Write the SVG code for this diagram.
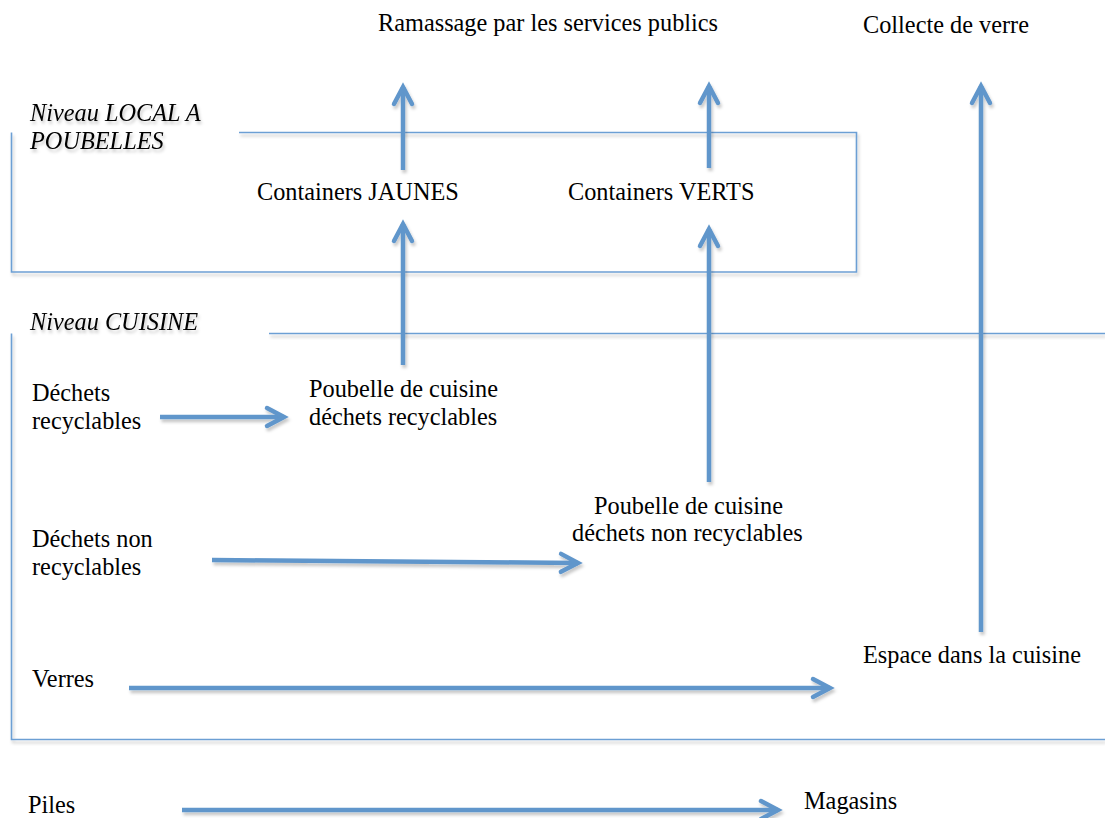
<svg xmlns="http://www.w3.org/2000/svg" width="1105" height="818" viewBox="0 0 1105 818">
  <defs>
    <filter id="sh" x="-5%" y="-20%" width="110%" height="140%">
      <feDropShadow dx="1.5" dy="3" stdDeviation="1.8" flood-color="#000" flood-opacity="0.22"/>
    </filter>
    <marker id="head" markerUnits="userSpaceOnUse" viewBox="-22 -13 26 26" refX="0" refY="0" markerWidth="26" markerHeight="26" orient="auto" overflow="visible">
      <path d="M-17,-9 L0,0 L-17,9" fill="none" stroke="#6096cb" stroke-width="4.5" stroke-linecap="round" stroke-linejoin="miter"/>
    </marker>
  </defs>
  <style>
    text { font-family: "Liberation Serif", "Times New Roman", serif; font-size: 24.3px; fill: #000; }
    .it { font-style: italic; }
    .frame { fill: none; stroke: #6c9fd4; stroke-width: 1.6; }
    .arr { fill: none; stroke: #6096cb; stroke-width: 4.5; marker-end: url(#head); }
  </style>
  <rect width="1105" height="818" fill="#ffffff"/>

  <g id="level-local" filter="url(#sh)">
    <path class="frame" d="M239,132.5 H856.5 V272 H11.5 V132.5"/>
    <text class="it" x="30" y="121">Niveau LOCAL A</text>
    <text class="it" x="30" y="149">POUBELLES</text>
  </g>

  <g id="level-cuisine" filter="url(#sh)">
    <path class="frame" d="M269,333.5 H1105 M11.5,333.5 V739.5 H1105"/>
    <text class="it" x="30" y="330">Niveau CUISINE</text>
  </g>

  <g id="node-ramassage"><text x="378" y="31">Ramassage par les services publics</text></g>
  <g id="node-collecte"><text x="863" y="33">Collecte de verre</text></g>
  <g id="node-jaunes"><text x="257" y="200">Containers JAUNES</text></g>
  <g id="node-verts"><text x="568" y="200">Containers VERTS</text></g>
  <g id="node-dechets-rec"><text x="32" y="401">Déchets</text><text x="32" y="429">recyclables</text></g>
  <g id="node-poubelle-rec"><text x="309" y="397">Poubelle de cuisine</text><text x="309" y="425">déchets recyclables</text></g>
  <g id="node-dechets-nonrec"><text x="32" y="547">Déchets non</text><text x="32" y="575">recyclables</text></g>
  <g id="node-poubelle-nonrec"><text x="594" y="514">Poubelle de cuisine</text><text x="572" y="541">déchets non recyclables</text></g>
  <g id="node-verres"><text x="32" y="687">Verres</text></g>
  <g id="node-espace"><text x="863" y="663">Espace dans la cuisine</text></g>
  <g id="node-piles"><text x="28" y="813">Piles</text></g>
  <g id="node-magasins"><text x="804" y="809">Magasins</text></g>

  <g id="connectors" filter="url(#sh)">
    <path class="arr" d="M403,170 V87"/>
    <path class="arr" d="M709,168 V86"/>
    <path class="arr" d="M403,365 V224"/>
    <path class="arr" d="M709,482 V229"/>
    <path class="arr" d="M981,632 V86"/>
    <path class="arr" d="M160,417 H284"/>
    <path class="arr" d="M212,560 L578,563"/>
    <path class="arr" d="M129,688 H830"/>
    <path class="arr" d="M182,810 H778"/>
  </g>
</svg>
